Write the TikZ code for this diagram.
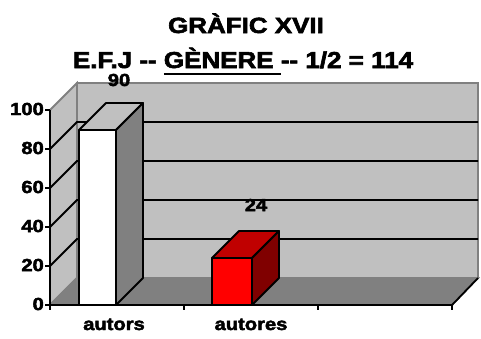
\documentclass[tikz,border=0pt]{standalone}
\usepackage{fontspec}
\newfontfamily\chartfont{Liberation Sans}[BoldFeatures={FakeBold=2.5}]
\definecolor{wallgray}{HTML}{C0C0C0}
\definecolor{floorgray}{HTML}{808080}
\definecolor{redtop}{HTML}{C00000}
\definecolor{redside}{HTML}{800000}
\newcommand\wide[1]{\scalebox{1.15}[1]{#1}}
\newcommand\thickul[1]{\setbox0\hbox{#1}\rlap{\rule[-7pt]{\wd0}{2pt}}\box0}

\begin{document}
\begin{tikzpicture}[x=1pt,y=-1pt]
    \tikzstyle{every node}+=[inner sep=0pt]
    \tikzstyle{lbl}=[font=\chartfont\bfseries\fontsize{17.5}{19}\selectfont]
    \tikzstyle{wall}=[fill=wallgray, draw=floorgray, line width=1.8pt]
    \tikzstyle{gridline}=[black, line width=1.8pt]
    \tikzstyle{axisline}=[black, line width=1.8pt]
    \tikzstyle{bar}=[draw=black, line width=1.8pt, line join=round]
    \useasboundingbox (0,0) rectangle (481,338);
    % walls and floor
    \filldraw [wall] (77,83) rectangle (478,278);
    \filldraw [wall] (50,305) -- (77,278) -- (77,83) -- (50,110) -- cycle;
    \filldraw [wall, fill=floorgray] (50,305) -- (77,278) -- (478,278) -- (452,305) -- cycle;
    \draw [axisline] (452,305) -- (478,278);
    % gridlines
    \foreach \y in {266,227,188,149}
        \draw [gridline] (50,\y) -- (77,\y-27) -- (478,\y-27);
    % axes
    \draw [axisline] (50,110) -- (50,305) -- (452,305);
    \foreach \v/\y in {0/305,20/266,40/227,60/188,80/149,100/110} {
        \draw [axisline] (45,\y) -- (50,\y);
        \node [lbl, anchor=east] (tick\v) at (44,\y-1) {\wide{\v}};
    }
    \foreach \x in {50,184,318,452}
        \draw [axisline] (\x,305) -- (\x,310);
    % bar autors
    \filldraw [bar, fill=white] (79,305) rectangle (116,130);
    \filldraw [bar, fill=wallgray] (79,130) -- (106,103) -- (143,103) -- (116,130) -- cycle;
    \filldraw [bar, fill=floorgray] (116,305) -- (116,130) -- (143,103) -- (143,278) -- cycle;
    % bar autores
    \filldraw [bar, fill=red] (212,305) rectangle (252,258);
    \filldraw [bar, fill=redtop] (212,258) -- (239,231) -- (279,231) -- (252,258) -- cycle;
    \filldraw [bar, fill=redside] (252,305) -- (252,258) -- (279,231) -- (279,278) -- cycle;
    % labels
    \node [lbl] (val90) at (119,80) {\wide{90}};
    \node [lbl] (val24) at (256,205) {\wide{24}};
    \node [lbl, anchor=base] (autors) at (114,330) {\wide{autors}};
    \node [lbl, anchor=base] (autores) at (251,330) {\wide{autores}};
    \node [anchor=base, font=\chartfont\bfseries\fontsize{22}{24}\selectfont] (title) at (246,33)
        {\scalebox{1.18}[1]{GRÀFIC XVII}};
    \node [anchor=base, font=\chartfont\bfseries\fontsize{23}{25}\selectfont] (subtitle) at (243,68)
        {\scalebox{1.13}[1]{E.F.J -- \thickul{GÈNERE }-- 1/2 = 114}};
\end{tikzpicture}
\end{document}
